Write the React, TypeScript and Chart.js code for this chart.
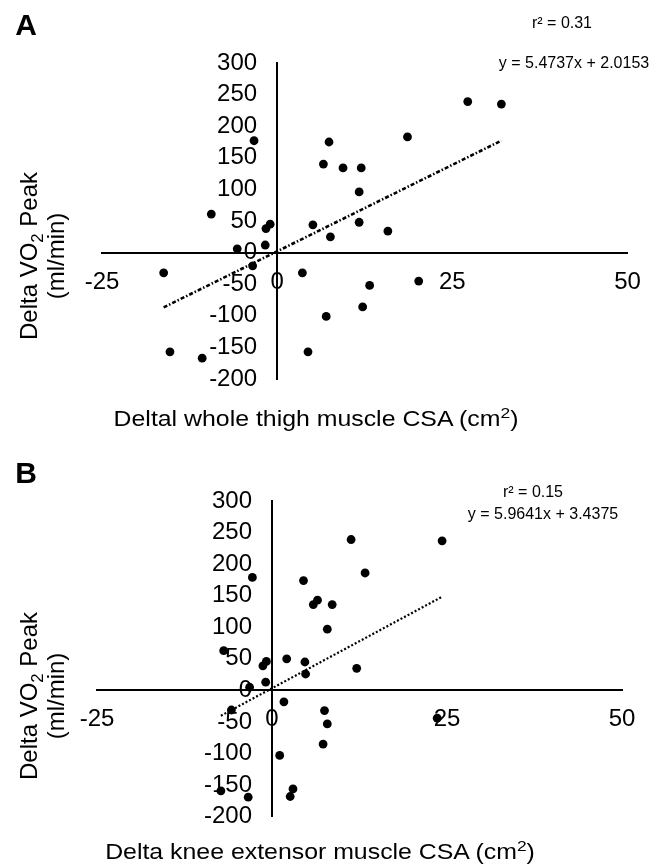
import React, { useEffect, useRef } from "react";
import { Chart, registerables } from "chart.js";

Chart.register(...registerables);

// ---- Tick labels ----
const xTickValues = [-25, 0, 25, 50];
const yTickValues = [-200, -150, -100, -50, 0, 50, 100, 150, 200, 250, 300];

// ---- Panel A: delta whole thigh muscle CSA vs delta VO2 peak ----
const thighCsa = [27.2, 32.0, -3.3, 7.4, 18.6, 6.6, 9.4, 12.0, 11.7, -9.4, -1.0, -1.6, 5.1, 11.7, 15.8, 7.6, -1.7, -5.7, -3.5, -16.2, 3.6, 20.2, 13.2, 12.2, 7.0, -15.3, -10.7, 4.4];
const thighVo2 = [239, 235, 177, 175, 183, 140, 134, 134, 96, 61, 45, 38, 44, 48, 34, 25, 12, 6, -21, -32, -32, -45, -52, -86, -101, -157, -167, -157];
const slopeA = 5.4737;
const interceptA = 2.0153;
const r2A = "0.31";

// ---- Panel B: delta knee extensor muscle CSA vs delta VO2 peak ----
const kneeCsa = [11.3, 24.3, 13.3, -2.8, 4.5, 6.5, 5.9, 8.6, 7.9, -6.9, 2.1, -0.8, -1.3, 4.7, 4.8, 12.1, -0.9, -3.2, 1.7, -5.8, 7.5, 7.9, 23.6, 7.3, 1.1, -7.3, 3.0, 2.6, -3.4];
const kneeVo2 = [239, 237, 186, 179, 174, 143, 136, 136, 97, 63, 50, 46, 39, 45, 26, 35, 13, 5, -18, -31, -32, -53, -44, -85, -103, -159, -156, -168, -169];
const slopeB = 5.9641;
const interceptB = 3.4375;
const r2B = "0.15";

const FONT = "'Liberation Sans', Arial, Helvetica, sans-serif";

type PanelProps = {
  top: number;
  height: number;
  pad: { left: number; right: number; top: number; bottom: number };
  xs: number[];
  ys: number[];
  slope: number;
  intercept: number;
  dash: number[];
  trendWidth: number;
};

function ScatterPanel(props: PanelProps) {
  const ref = useRef<HTMLCanvasElement | null>(null);
  useEffect(() => {
    if (!ref.current) return;
    const pts = props.xs.map((x, i) => ({ x, y: props.ys[i] }));
    const xMin = Math.min(...props.xs);
    const xMax = Math.max(...props.xs);
    const trend = [xMin, xMax].map((x) => ({ x, y: props.slope * x + props.intercept }));
    const chart = new Chart(ref.current, {
      type: "scatter",
      data: {
        datasets: [
          {
            data: pts,
            pointRadius: 4.4,
            pointBackgroundColor: "#000",
            pointBorderColor: "#000",
            pointBorderWidth: 0,
            order: 0,
          },
          {
            data: trend,
            showLine: true,
            borderColor: "#000",
            borderWidth: props.trendWidth,
            borderDash: props.dash,
            borderCapStyle: "butt",
            pointRadius: 0,
            fill: false,
            order: 1,
          },
        ],
      },
      options: {
        responsive: false,
        animation: false,
        events: [],
        layout: { padding: props.pad },
        plugins: {
          legend: { display: false },
          tooltip: { enabled: false },
          title: { display: false },
        },
        scales: {
          x: {
            type: "linear",
            position: { y: 0 } as any,
            min: -25,
            max: 50,
            afterBuildTicks: (s: any) => {
              s.ticks = xTickValues.map((v) => ({ value: v }));
            },
            afterFit: (s: any) => {
              s.height = 0;
            },
            grid: { display: false, drawTicks: false },
            border: { display: true, color: "#000", width: 2 },
            ticks: {
              color: "#000",
              font: { family: FONT, size: 24 },
              padding: 15,
              maxRotation: 0,
              autoSkip: false,
            },
          },
          y: {
            type: "linear",
            position: { x: 0 } as any,
            min: -200,
            max: 300,
            afterBuildTicks: (s: any) => {
              s.ticks = yTickValues.map((v) => ({ value: v }));
            },
            afterFit: (s: any) => {
              s.width = 0;
            },
            grid: { display: false, drawTicks: false },
            border: { display: true, color: "#000", width: 2 },
            ticks: {
              color: "#000",
              font: { family: FONT, size: 24 },
              // label gap from the axis line (positioned axes ignore padding)
              callback: (v: any) => `${v}   `,
              autoSkip: false,
            },
          },
        },
      },
    });
    return () => chart.destroy();
  }, []);
  return (
    <canvas
      ref={ref}
      width={662}
      height={props.height}
      style={{ position: "absolute", left: 0, top: props.top, width: 662, height: props.height }}
    />
  );
}

function Txt(p: { x: number; y: number; size: number; bold?: boolean; sx?: number; children: any }) {
  return (
    <div
      style={{
        position: "absolute",
        left: p.x,
        top: p.y,
        transform: `translate(-50%, -50%) scaleX(${p.sx ?? 1})`,
        fontFamily: FONT,
        fontSize: p.size,
        fontWeight: p.bold ? 700 : 400,
        whiteSpace: "nowrap",
        color: "#000",
        lineHeight: 1.15,
      }}
    >
      {p.children}
    </div>
  );
}

function YTitle(p: { x: number; y: number }) {
  return (
    <div
      style={{
        position: "absolute",
        left: p.x,
        top: p.y,
        transform: "translate(-50%, -50%) rotate(-90deg)",
        fontFamily: FONT,
        fontSize: 24,
        lineHeight: "27px",
        textAlign: "center",
        whiteSpace: "nowrap",
        color: "#000",
      }}
    >
      <div>
        Delta VO<sub style={{ fontSize: "0.7em", lineHeight: 0 }}>2</sub> Peak
      </div>
      <div>(ml/min)</div>
    </div>
  );
}

export default function App() {
  return (
    <div style={{ position: "absolute", left: 0, top: 0, width: 662, height: 865, background: "#fff", overflow: "hidden" }}>
      <ScatterPanel
        top={0}
        height={432}
        pad={{ left: 102, right: 34.5, top: 63, bottom: 53 }}
        xs={thighCsa}
        ys={thighVo2}
        slope={slopeA}
        intercept={interceptA}
        dash={[4, 2, 1.5, 2]}
        trendWidth={2.6}
      />
      <ScatterPanel
        top={432}
        height={433}
        pad={{ left: 97, right: 40, top: 69, bottom: 48.3 }}
        xs={kneeCsa}
        ys={kneeVo2}
        slope={slopeB}
        intercept={interceptB}
        dash={[2, 2]}
        trendWidth={2.2}
      />
      <Txt x={26} y={25} size={30} bold>A</Txt>
      <Txt x={26} y={473} size={30} bold>B</Txt>
      <Txt x={562} y={23} size={16}>r² = {r2A}</Txt>
      <Txt x={574} y={63} size={16}>y = {slopeA.toFixed(4)}x + {interceptA.toFixed(4)}</Txt>
      <Txt x={533} y={492} size={16}>r² = {r2B}</Txt>
      <Txt x={543} y={514} size={16}>y = {slopeB.toFixed(4)}x + {interceptB.toFixed(4)}</Txt>
      <YTitle x={42} y={256} />
      <YTitle x={42} y={696} />
      <Txt x={316} y={419} size={22} sx={1.13}>
        Deltal whole thigh muscle CSA (cm<sup style={{ fontSize: "0.7em", lineHeight: 0 }}>2</sup>)
      </Txt>
      <Txt x={320} y={852} size={22} sx={1.13}>
        Delta knee extensor muscle CSA (cm<sup style={{ fontSize: "0.7em", lineHeight: 0 }}>2</sup>)
      </Txt>
    </div>
  );
}
